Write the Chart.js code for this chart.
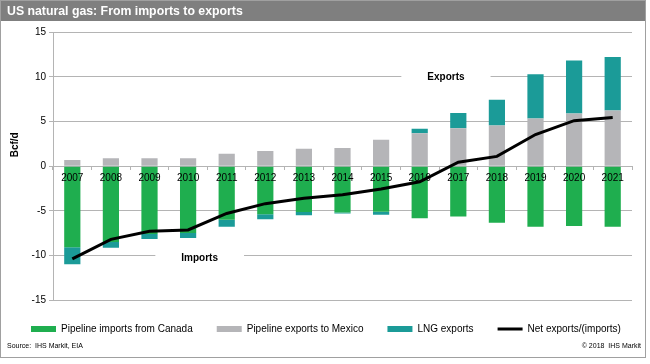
<!DOCTYPE html>
<html>
<head>
<meta charset="utf-8">
<script src="https://cdn.jsdelivr.net/npm/chart.js@4.4.1/dist/chart.umd.min.js"></script>
<style>
  html, body { margin: 0; padding: 0; background: #fff; }
  canvas { display: block; }
</style>
</head>
<body>
<canvas id="c" width="650" height="364"></canvas>
<script>
// ---- data (Bcf/d) ----
const years = ['2007','2008','2009','2010','2011','2012','2013','2014','2015','2016','2017','2018','2019','2020','2021'];
const canadaImports = [-9.1, -8.5, -7.6, -7.5, -6.0, -5.4, -5.15, -5.2, -5.1, -5.85, -5.65, -6.35, -6.8, -6.7, -6.8];
const mexicoExports = [0.7, 0.9, 0.9, 0.9, 1.4, 1.7, 1.95, 2.05, 2.95, 3.7, 4.25, 4.55, 5.35, 5.9, 6.25];
const lngExports = [-1.9, -0.65, -0.55, -0.55, -0.8, -0.55, -0.35, -0.1, -0.35, 0.5, 1.7, 2.9, 4.95, 5.95, 6.0];
const netExports = [-10.4, -8.2, -7.3, -7.15, -5.3, -4.2, -3.6, -3.2, -2.55, -1.75, 0.45, 1.1, 3.55, 5.1, 5.45];
const yTickValues = [-15, -10, -5, 0, 5, 10, 15];
const seriesNames = ['Pipeline imports from Canada', 'Pipeline exports to Mexico', 'LNG exports', 'Net exports/(imports)'];
const titleText = 'US natural gas: From imports to exports';
const sourceText = 'Source:  IHS Markit, EIA';
const copyrightText = '\u00A9 2018  IHS Markit';
const axisTitle = 'Bcf/d';
const annotations = [
  { text: 'Exports', xIndex: 9.68, yValue: 10 },
  { text: 'Imports', xIndex: 3.3, yValue: -10.37 }
];

const FONT = "'Liberation Sans', Arial, sans-serif";
const GREEN = '#1fae4f', GREY = '#b5b5b8', TEAL = '#1b9b98', GRID = '#b4b4b4';
const LINE_INDEX = 3;

const decor = {
  id: 'decor',
  beforeDraw(chart) {
    const ctx = chart.ctx;
    ctx.save();
    ctx.fillStyle = '#ffffff';
    ctx.fillRect(0, 0, chart.width, chart.height);
    ctx.fillStyle = '#7f7f7f';
    ctx.fillRect(0, 0, 646, 21);
    ctx.strokeStyle = '#a0a0a0';
    ctx.lineWidth = 1;
    ctx.strokeRect(0.5, 0.5, 645, 357);
    ctx.restore();
  },
  beforeDatasetsDraw(chart) {
    const { ctx, scales: { x, y } } = chart;
    ctx.save();
    ctx.font = 'bold 10px ' + FONT;
    ctx.textAlign = 'center';
    ctx.textBaseline = 'middle';
    for (const a of annotations) {
      const px = x.getPixelForValue(a.xIndex);
      const py = y.getPixelForValue(a.yValue);
      const w = ctx.measureText(a.text).width + 52;
      ctx.fillStyle = '#ffffff';
      ctx.fillRect(px - w / 2, py - 7, w, 14);
      ctx.fillStyle = '#000000';
      ctx.fillText(a.text, px, py);
    }
    ctx.restore();
  },
  beforeDatasetDraw(chart, args) {
    // the net line is drawn later, above the year labels
    if (args.index === LINE_INDEX) return false;
  },
  afterDraw(chart) {
    const { ctx, scales: { y } } = chart;
    const meta = chart.getDatasetMeta(LINE_INDEX);
    if (meta && meta.controller) {
      ctx.save();
      meta.controller.draw();
      ctx.restore();
    }
    ctx.save();
    ctx.fillStyle = '#000000';
    ctx.font = 'bold 10px ' + FONT;
    ctx.textAlign = 'center';
    ctx.textBaseline = 'middle';
    ctx.translate(15, y.getPixelForValue(2.4));
    ctx.rotate(-Math.PI / 2);
    ctx.fillText(axisTitle, 0, 0);
    ctx.restore();
    ctx.save();
    ctx.fillStyle = '#000000';
    ctx.font = '7px ' + FONT;
    ctx.textAlign = 'right';
    ctx.textBaseline = 'middle';
    ctx.fillText(copyrightText, 641, 346);
    ctx.restore();
  }
};

new Chart(document.getElementById('c'), {
  data: {
    labels: years,
    datasets: [
      { type: 'bar', label: seriesNames[0], data: canadaImports, backgroundColor: GREEN, order: 1 },
      { type: 'bar', label: seriesNames[1], data: mexicoExports, backgroundColor: GREY, order: 1 },
      { type: 'bar', label: seriesNames[2], data: lngExports, backgroundColor: TEAL, order: 1 },
      { type: 'line', label: seriesNames[3], data: netExports, borderColor: '#000000', backgroundColor: '#000000',
        borderWidth: 3, pointRadius: 0, tension: 0, stack: 'net', order: 0 }
    ]
  },
  options: {
    responsive: false,
    animation: false,
    devicePixelRatio: 1,
    layout: { padding: { left: 7, right: 0, top: 0, bottom: 13.8 } },
    datasets: { bar: { categoryPercentage: 1, barPercentage: 0.42 } },
    scales: {
      x: {
        type: 'category',
        stacked: true,
        position: { y: 0 },
        offset: true,
        grid: { display: true, drawOnChartArea: false, drawTicks: true, tickLength: 4, color: GRID, offset: true, z: 1 },
        border: { display: false },
        ticks: { color: '#000', font: { family: FONT, size: 10 }, padding: 2, maxRotation: 0, autoSkip: false, z: 1 }
      },
      y: {
        stacked: true,
        min: -15, max: 15,
        afterBuildTicks: s => { s.ticks = yTickValues.map(v => ({ value: v })); },
        afterFit: s => { s.width = 46; },
        grid: { color: GRID, tickLength: 4, drawTicks: true },
        border: { display: true, color: GRID },
        ticks: { color: '#000', font: { family: FONT, size: 10 }, padding: 3 }
      },
      spacer: {
        type: 'linear',
        position: 'right',
        display: true,
        grid: { display: false, drawTicks: false },
        border: { display: false },
        ticks: { display: false },
        afterFit: s => { s.width = 18; }
      }
    },
    plugins: {
      title: {
        display: true, text: titleText, align: 'start', color: '#ffffff',
        font: { family: FONT, size: 12.3, weight: 'bold' },
        padding: { top: 4, bottom: 13.6 }
      },
      subtitle: {
        display: true, text: sourceText, position: 'bottom', align: 'start', color: '#000000',
        font: { family: FONT, size: 7 },
        padding: { top: 0, bottom: 0 }
      },
      legend: {
        position: 'bottom', align: 'start', maxHeight: 41.8,
        labels: {
          color: '#000', font: { family: FONT, size: 10 },
          padding: 24, usePointStyle: true, pointStyleWidth: 25, boxHeight: 6,
          sort: (a, b) => a.datasetIndex - b.datasetIndex,
          generateLabels: chart => chart.data.datasets.map((ds, i) => ({
            text: ds.label,
            datasetIndex: i,
            fillStyle: ds.type === 'line' ? 'rgba(0,0,0,0)' : ds.backgroundColor,
            strokeStyle: ds.type === 'line' ? '#000000' : 'rgba(0,0,0,0)',
            lineWidth: ds.type === 'line' ? 3 : 0,
            pointStyle: ds.type === 'line' ? 'line' : 'rect',
            fontColor: '#000',
            hidden: false
          }))
        }
      },
      tooltip: { enabled: false }
    }
  },
  plugins: [decor]
});
</script>
</body>
</html>
